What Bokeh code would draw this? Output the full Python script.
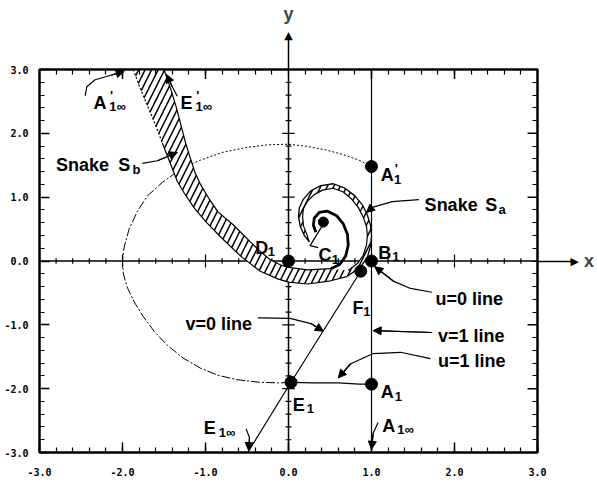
from bokeh.plotting import figure
from bokeh.models import (Range1d, LinearAxis, FixedTicker, NumeralTickFormatter,
                          Arrow, NormalHead, Label)
from bokeh.embed import file_html
from bokeh.resources import INLINE

# ---------------------------------------------------------------- ticks
MAJOR = [-3.0, -2.0, -1.0, 0.0, 1.0, 2.0, 3.0]
MINOR = [round(-3.0 + 0.2 * i, 1) for i in range(31)]

# ---------------------------------------------------------------- named points
PT_X = [1.0, 1.0, 0.0, 0.03, 0.87, 1.0]      # A1', B1, D1, E1, F1, A1
PT_Y = [1.48, 0.0, 0.0, -1.90, -0.16, -1.93]
C1_X, C1_Y = [0.42], [0.61]

# v=0 line : from E1-infinity through E1 to F1
V0_X = [-0.49, 0.03, 0.87]
V0_Y = [-3.0, -1.90, -0.16]
# v=1 line
V1_X = [1.0, 1.0]
V1_Y = [-3.0, 3.0]
# u=1 line : E1 -> A1
U1_X = [0.03, 0.3, 0.6, 0.85, 1.0]
U1_Y = [-1.90, -1.91, -1.91, -1.93, -1.93]

# closed orbit through A1' ... E1 (upper dotted part, lower dash-dot part)
ORB_TOP_X = [1.0, 0.85, 0.65, 0.45, 0.2, 0.0, -0.25, -0.5, -0.8, -1.06, -1.2, -1.34]
ORB_TOP_Y = [1.48, 1.58, 1.67, 1.74, 1.8, 1.83, 1.82, 1.78, 1.7, 1.58, 1.5, 1.4]
ORB_LOW_X = [-1.34, -1.52, -1.7, -1.82, -1.92, -1.98, -2.0, -1.99, -1.94, -1.86, -1.75,
             -1.62, -1.46, -1.27, -1.06, -0.85, -0.62, -0.35, -0.1, 0.03]
ORB_LOW_Y = [1.4, 1.23, 1.02, 0.78, 0.5, 0.22, 0.0, -0.2, -0.42, -0.64, -0.87,
             -1.1, -1.32, -1.52, -1.68, -1.79, -1.86, -1.9, -1.91, -1.9]

# snake S_b : upper / right edge (top to bottom)
SB_R_X = [-1.50, -1.42, -1.35, -1.29, -1.24, -1.18, -1.13, -1.06, -0.96, -0.85, -0.66,
          -0.46, -0.34, -0.22, -0.1, 0.0, 0.23, 0.51]
SB_R_Y = [3.0, 2.7, 2.4, 2.1, 1.85, 1.6, 1.4, 1.2, 0.98, 0.77, 0.56,
          0.3, 0.15, 0.02, -0.06, -0.1, -0.14, -0.12]
# snake S_b : lower / left edge (top to bottom)
SB_L_X = [-1.87, -1.80, -1.72, -1.64, -1.57, -1.52, -1.46, -1.40, -1.34, -1.25, -1.13,
          -1.0, -0.82, -0.58, -0.34, -0.13, 0.0, 0.23, 0.51, 0.71]
SB_L_Y = [3.0, 2.75, 2.5, 2.25, 2.02, 1.85, 1.65, 1.45, 1.25, 1.05, 0.82,
          0.62, 0.38, 0.08, -0.16, -0.28, -0.33, -0.36, -0.31, -0.24]

# snake S_a : outer edge of the spiral band
SA_O_X = [0.71, 0.87, 0.95, 0.99, 1.0, 0.99, 0.95, 0.89, 0.8, 0.68, 0.54, 0.39, 0.27,
          0.18, 0.13, 0.12, 0.14, 0.19, 0.25]
SA_O_Y = [-0.24, -0.09, 0.06, 0.24, 0.4, 0.55, 0.72, 0.88, 1.02, 1.14, 1.21, 1.18, 1.1,
          0.97, 0.83, 0.7, 0.55, 0.4, 0.3]
# snake S_a : inner edge of the spiral band
SA_I_X = [0.25, 0.22, 0.18, 0.17, 0.18, 0.23, 0.31, 0.41, 0.54, 0.66, 0.76, 0.84, 0.9,
          0.94, 0.95, 0.94, 0.9, 0.83, 0.72]
SA_I_Y = [0.3, 0.42, 0.55, 0.7, 0.82, 0.94, 1.04, 1.11, 1.14, 1.08, 0.97, 0.84, 0.69,
          0.54, 0.4, 0.25, 0.09, -0.04, -0.15]

# inner spiral arm winding onto C1
ARM_X = [0.51, 0.62, 0.69, 0.72, 0.71, 0.66, 0.58, 0.47, 0.37, 0.31, 0.30, 0.33]
ARM_Y = [-0.12, -0.05, 0.08, 0.25, 0.42, 0.58, 0.71, 0.78, 0.76, 0.67, 0.56, 0.45]

# ---------------------------------------------------------------- figure
p = figure(width=597, height=483, x_range=Range1d(-3, 3), y_range=Range1d(-3, 3),
           output_backend="svg", toolbar_location=None,
           x_axis_location=None, y_axis_location=None,
           min_border_left=39, min_border_right=60, min_border_top=69,
           min_border_bottom=31)
p.grid.visible = False
p.outline_line_color = "black"
p.outline_line_width = 2
p.background_fill_color = "white"
p.border_fill_color = "white"

FONT = "Liberation Sans"


def frame_axis(ticks, standoff, **kw):
    opts = dict(
        ticker=FixedTicker(ticks=ticks, minor_ticks=MINOR),
        formatter=NumeralTickFormatter(format="0.0"),
        axis_line_width=2, axis_line_color="black",
        major_tick_in=10, major_tick_out=0, major_tick_line_width=1.5,
        minor_tick_in=5, minor_tick_out=0, minor_tick_line_width=1.2,
        major_label_standoff=standoff,
        major_label_text_font="DejaVu Sans Mono",
        major_label_text_font_style="bold",
        major_label_text_font_size="10px",
        major_label_text_color="black",
    )
    opts.update(kw)
    return LinearAxis(**opts)


p.add_layout(frame_axis(MAJOR, 11), "left")
p.add_layout(frame_axis(MAJOR, 15), "below")

# top and right frame edges: the centre axes leave the frame there and end
# in an arrow head, with the axis name beyond it
arrow_axis = dict(major_tick_in=0, major_label_standoff=-3,
                  major_label_text_font="DejaVu Sans",
                  major_label_text_font_style="normal",
                  major_label_text_font_size="11px",
                  axis_label_text_font=FONT, axis_label_text_font_style="bold",
                  axis_label_text_font_size="18px", axis_label_standoff=2)
top = frame_axis([0.0], 0, major_tick_out=31, major_label_overrides={0: "\u25b2"},
                 axis_label="y", **arrow_axis)
right = frame_axis([0.0], 0, major_tick_out=36, major_label_overrides={0: "\u25b6"},
                   axis_label="x", **arrow_axis)
if "axis_label_orientation" in LinearAxis.properties():
    right.axis_label_orientation = "horizontal"
p.add_layout(top, "above")
p.add_layout(right, "right")

# longer inward ticks at whole units on the top and right edges
EDGE = [-2.0, -1.0, 1.0, 2.0]
p.segment(x0=[2.88] * 4, y0=EDGE, x1=[3.0] * 4, y1=EDGE, line_color="black", line_width=1.5)
p.segment(x0=EDGE, y0=[2.85] * 4, x1=EDGE, y1=[3.0] * 4, line_color="black", line_width=1.5)

# centre axes
p.line([-3.0, 3.0], [0.0, 0.0], line_color="black", line_width=1.5)
p.line([0.0, 0.0], [-3.0, 3.0], line_color="black", line_width=1.5)

# cross ticks along the centre axes
tx = [v for v in MINOR if v != 0.0]
hx = [0.1 if v in MAJOR else 0.045 for v in tx]
p.segment(x0=tx, y0=[-h for h in hx], x1=tx, y1=hx, line_color="black", line_width=1.2)
hy = [0.075 if v in MAJOR else 0.035 for v in tx]
p.segment(x0=[-h for h in hy], y0=tx, x1=hy, y1=tx, line_color="black", line_width=1.2)

# closed orbit
p.line(ORB_TOP_X, ORB_TOP_Y, line_color="black", line_width=1, line_dash="2 2")
p.line(ORB_LOW_X, ORB_LOW_Y, line_color="black", line_width=1, line_dash="9 2 2 2")
p.line(U1_X, U1_Y, line_color="black", line_width=1.3)

# v=0 and v=1 lines
p.line(V0_X, V0_Y, line_color="black", line_width=1.2)
p.line(V1_X, V1_Y, line_color="black", line_width=1.2)

# hatched snake band (S_b running into the spiral S_a)
band_x = SB_R_X + SA_I_X[::-1] + SA_O_X[::-1] + SB_L_X[::-1]
band_y = SB_R_Y + SA_I_Y[::-1] + SA_O_Y[::-1] + SB_L_Y[::-1]
p.patch(band_x, band_y, fill_color="white", line_color=None,
        hatch_pattern="/", hatch_color="black", hatch_scale=13, hatch_weight=1.5)
p.line(SB_R_X, SB_R_Y, line_color="black", line_width=1.2)
p.line(SB_L_X[:6], SB_L_Y[:6], line_color="black", line_width=1.2, line_dash="2 2")
p.line(SB_L_X[5:], SB_L_Y[5:], line_color="black", line_width=1.2)
p.line(SA_O_X, SA_O_Y, line_color="black", line_width=1.3)
p.line(SA_I_X, SA_I_Y, line_color="black", line_width=1.2)
p.line(ARM_X, ARM_Y, line_color="black", line_width=2.8)

# labelled points
p.scatter(PT_X, PT_Y, size=12, color="black")
p.scatter(C1_X, C1_Y, size=10, color="black")
p.line([0.42, 0.26, 0.36], [0.58, 0.24, 0.21], line_color="black", line_width=1.3)

# leader arrows
LEADERS = [
    ([-2.45, -2.43, -2.33, -2.14, -1.98], [2.59, 2.73, 2.84, 2.91, 2.97]),
    ([-1.34, -1.40, -1.47], [2.58, 2.73, 2.92]),
    ([-1.76, -1.58, -1.34], [1.53, 1.57, 1.70]),
    ([1.57, 1.25, 1.01, 0.94], [0.96, 0.93, 0.84, 0.76]),
    ([1.73, 1.47, 1.27, 1.04], [-0.49, -0.43, -0.32, -0.09]),
    ([1.73, 1.02], [-1.12, -1.09]),
    ([1.71, 1.35, 1.02, 0.75, 0.60], [-1.53, -1.43, -1.45, -1.61, -1.83]),
    ([-0.37, 0.02, 0.27, 0.42], [-0.89, -0.90, -0.98, -1.10]),
    ([-0.51, -0.47, -0.48], [-2.63, -2.77, -2.97]),
    ([1.08, 1.02, 1.0], [-2.53, -2.70, -2.95]),
]
for lx, ly in LEADERS:
    p.line(lx, ly, line_color="black", line_width=1.2)
    p.add_layout(Arrow(end=NormalHead(size=8, fill_color="black", line_color="black"),
                       x_start=lx[-2], y_start=ly[-2], x_end=lx[-1], y_end=ly[-1],
                       line_width=1.2, line_color="black"))


def put(x, y, text, size=18):
    p.add_layout(Label(x=x, y=y, text=text, text_font=FONT, text_font_style="bold",
                       text_font_size=f"{size}px", text_color="black",
                       text_align="left", text_baseline="alphabetic"))


# point names: (main letter, x, y, subscript, sx, sy, prime position or None)
NAMES = [
    ("A", -2.35, 2.48, "1\u221e", -2.16, 2.42, (-2.15, 2.59)),
    ("E", -1.30, 2.47, "1\u221e", -1.12, 2.42, (-1.11, 2.59)),
    ("A", 1.11, 1.34, "1", 1.27, 1.28, (1.28, 1.45)),
    ("B", 1.08, 0.13, "1", 1.25, 0.07, None),
    ("D", -0.40, 0.21, "1", -0.25, 0.15, None),
    ("C", 0.36, 0.09, "1", 0.52, 0.02, None),
    ("F", 0.77, -0.73, "1", 0.90, -0.79, None),
    ("E", 0.05, -2.25, "1", 0.22, -2.31, None),
    ("A", 1.11, -2.06, "1", 1.28, -2.12, None),
    ("E", -1.02, -2.62, "1\u221e", -0.84, -2.69, None),
    ("A", 1.13, -2.58, "1\u221e", 1.31, -2.64, None),
    ("S", -2.05, 1.50, "b", -1.88, 1.43, None),
    ("S", 2.37, 0.87, "a", 2.53, 0.81, None),
]
for main, x, y, sub, sx, sy, prime in NAMES:
    put(x, y, main)
    put(sx, sy, sub, 13)
    if prime is not None:
        put(prime[0], prime[1], "'", 13)

put(-2.80, 1.50, "Snake")
put(1.64, 0.87, "Snake")
put(1.77, -0.59, "u=0 line")
put(1.80, -1.17, "v=1 line")
put(1.80, -1.57, "u=1 line")
put(-1.24, -0.98, "v=0 line")

open("out.html", "w").write(file_html(p, INLINE))
